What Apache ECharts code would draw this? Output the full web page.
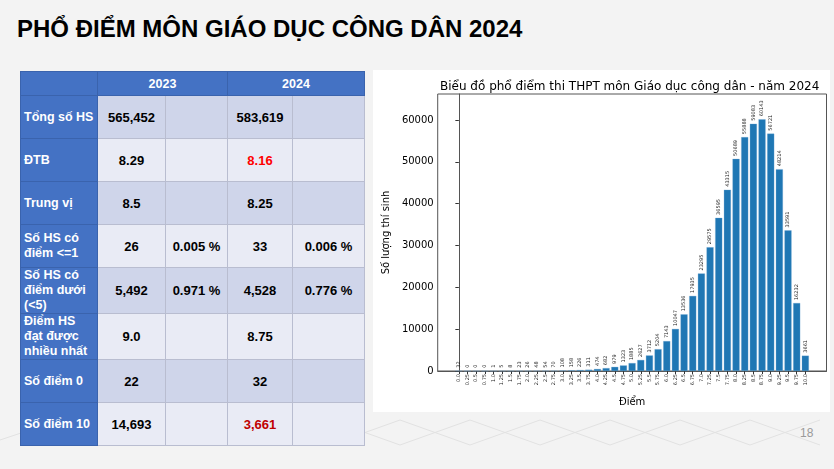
<!DOCTYPE html>
<html>
<head>
<meta charset="utf-8">
<script src="https://cdn.jsdelivr.net/npm/echarts@6/dist/echarts.min.js"></script>
<style>
  html, body { margin: 0; padding: 0; }
  body { width: 834px; height: 469px; background: #f3f3f3; position: relative; overflow: hidden;
         font-family: "Liberation Sans", Arial, sans-serif; }
  #deco { position: absolute; left: 0; top: 0; }
  #title { position: absolute; left: 17px; top: 15px; font-size: 24px; font-weight: bold; color: #000; }
  #tbl { position: absolute; left: 20px; top: 71px; border-collapse: collapse; table-layout: fixed; }
  #tbl td { border: 1px solid #b9bdd0; font-weight: bold; font-size: 13px; text-align: center;
            padding: 0; color: #000; height: 42px; }
  #tbl tr.h td { background: #4472c4; color: #fff; height: 23px; font-size: 12.5px; border-color: #3a63ad; }
  #tbl td.l { background: #4472c4; color: #fff; text-align: left; padding-left: 3px; font-size: 12.5px;
              line-height: 15px; border-color: #3a63ad; white-space: nowrap; }
  #tbl tr.a td { background: #cfd5ea; }
  #tbl tr.b td { background: #e9ebf5; }
  #tbl tr.a td.l, #tbl tr.b td.l { background: #4472c4; }
  .red { color: #ff0000 !important; }
  .dred { color: #c00000 !important; }
  #panel { position: absolute; left: 373px; top: 70px; width: 457px; height: 342px; background: #fff; }
  #main { width: 457px; height: 342px; }
  #page { position: absolute; left: 800px; top: 426px; font-size: 12px; color: #9a9a9a; }
</style>
</head>
<body>
<svg id="deco" width="834" height="469">
  <g stroke="#e2e2e2" stroke-width="1" fill="none">
    <polyline points="330,420 400,445 470,420 540,445 610,420 680,445 750,420 820,445"/>
    <polyline points="330,445 400,420 470,445 540,420 610,445 680,420 750,445 820,420"/>
    <polyline points="0,440 60,420 120,440"/>
  </g>
</svg>
<div id="title">PHỔ ĐIỂM MÔN GIÁO DỤC CÔNG DÂN 2024</div>

<table id="tbl">
  <colgroup>
    <col style="width:77px"><col style="width:68px"><col style="width:62px"><col style="width:65px"><col style="width:72px">
  </colgroup>
  <tr class="h"><td></td><td colspan="2">2023</td><td colspan="2">2024</td></tr>
  <tr class="a"><td class="l">Tổng số HS</td><td>565,452</td><td></td><td>583,619</td><td></td></tr>
  <tr class="b"><td class="l">ĐTB</td><td>8.29</td><td></td><td class="red">8.16</td><td></td></tr>
  <tr class="a"><td class="l">Trung vị</td><td>8.5</td><td></td><td>8.25</td><td></td></tr>
  <tr class="b"><td class="l">Số HS có<br>điểm &lt;=1</td><td>26</td><td>0.005 %</td><td>33</td><td>0.006 %</td></tr>
  <tr class="a"><td class="l">Số HS có<br>điểm dưới<br>(&lt;5)</td><td>5,492</td><td>0.971 %</td><td>4,528</td><td>0.776 %</td></tr>
  <tr class="b"><td class="l">Điểm HS<br>đạt được<br>nhiều nhất</td><td>9.0</td><td></td><td>8.75</td><td></td></tr>
  <tr class="a"><td class="l">Số điểm 0</td><td>22</td><td></td><td>32</td><td></td></tr>
  <tr class="b"><td class="l">Số điểm 10</td><td>14,693</td><td></td><td class="dred">3,661</td><td></td></tr>
</table>

<div id="panel"><div id="main"></div></div>
<div id="page">18</div>

<script>
// nhãn trục x (điểm)
var scoreLabels = ['0.0','0.25','0.5','0.75','1.0','1.25','1.5','1.75','2.0','2.25','2.5','2.75',
  '3.0','3.25','3.5','3.75','4.0','4.25','4.5','4.75','5.0','5.25','5.5','5.75','6.0','6.25','6.5','6.75',
  '7.0','7.25','7.5','7.75','8.0','8.25','8.5','8.75','9.0','9.25','9.5','9.75','10.0'];
// số lượng thí sinh theo từng mức điểm - năm 2024
var counts = [32,0,0,0,1,5,8,23,26,48,54,70,108,158,226,311,474,682,979,1323,1885,2627,3712,5204,
  7143,10047,13536,17935,23295,29575,36595,43315,50689,55888,59083,60143,56721,48214,33591,16232,3661];
var yTicks = [0,10000,20000,30000,40000,50000,60000];

var scores = scoreLabels.map(function (s) { return parseFloat(s); });
var seriesData = [];
for (var i = 0; i < scores.length; i++) {
    seriesData.push([scores[i], counts[i]]);
}

var myChart = echarts.init(document.getElementById('main'));
var option = {
    animation: false,
    textStyle: { fontFamily: 'DejaVu Sans' },
    title: {
        text: 'Biểu đồ phổ điểm thi THPT môn Giáo dục công dân - năm 2024',
        left: 62,
        top: 6,
        textStyle: { fontSize: 12, fontWeight: 'normal', color: '#000', fontFamily: 'DejaVu Sans' }
    },
    grid: { left: 60, top: 24, right: 3.5, bottom: 39.5, show: true, borderColor: '#555', borderWidth: 1 },
    xAxis: {
        type: 'value',
        min: -0.61,
        max: 10.61,
        name: 'Điểm',
        nameLocation: 'middle',
        nameGap: 26,
        nameTextStyle: { fontSize: 10, color: '#000' },
        splitLine: { show: false },
        axisLine: { show: true, onZero: false, lineStyle: { color: '#555', width: 1 } },
        axisTick: { show: true, customValues: scores, length: 3, lineStyle: { color: '#333' } },
        axisLabel: {
            customValues: scores,
            rotate: 90,
            fontSize: 5,
            color: '#222',
            margin: 3,
            formatter: function (v) { return scoreLabels[Math.round(v * 4)]; }
        }
    },
    yAxis: {
        type: 'value',
        min: 0,
        max: 66200,
        name: 'Số lượng thí sinh',
        nameLocation: 'middle',
        nameGap: 46,
        nameTextStyle: { fontSize: 10, color: '#000' },
        splitLine: { show: false },
        axisLine: { show: true, lineStyle: { color: '#555', width: 1 } },
        axisTick: { show: true, customValues: yTicks, length: 3.5, lineStyle: { color: '#333' } },
        axisLabel: {
            customValues: yTicks, fontSize: 10, color: '#000', margin: 4,
            formatter: function (v) { return String(v); }
        }
    },
    series: [{
        type: 'bar',
        data: seriesData,
        barWidth: 7,
        itemStyle: { color: '#1f77b4', borderColor: '#6fa6d2', borderWidth: 0.3 },
        label: {
            show: true,
            position: 'top',
            rotate: 90,
            align: 'left',
            verticalAlign: 'middle',
            distance: 3,
            fontSize: 5,
            color: '#222',
            formatter: function (p) { return p.value[1]; }
        }
    }]
};
myChart.setOption(option);
</script>
</body>
</html>
